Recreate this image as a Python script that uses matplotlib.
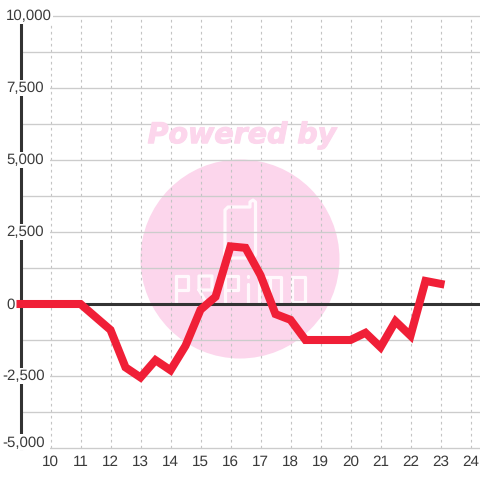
import matplotlib
matplotlib.use("Agg")
import matplotlib.pyplot as plt
import matplotlib.patheffects as pe
from matplotlib.patches import Circle, Rectangle
from matplotlib.transforms import Affine2D, blended_transform_factory

# Data
hours = [9, 10, 11, 12, 12.5, 13, 13.5, 14, 14.5, 15, 15.5, 16, 16.5, 17, 17.5,
         18, 18.5, 19, 19.5, 20, 20.5, 21, 21.5, 22, 22.5, 23]
values = [0, 0, 0, -900, -2200, -2550, -1950, -2300, -1450, -200, 250, 2000, 1950,
          1000, -350, -550, -1250, -1250, -1250, -1250, -1000, -1500, -600, -1100, 800, 700]
x_ticks = list(range(10, 25))
y_labels = {10000: "10,000", 7500: "7,500", 5000: "5,000", 2500: "2,500", 0: "0",
            -2500: "-2,500", -5000: "-5,000"}
y_minor = [8750, 6250, 3750, 1250, -1250, -3750]

plt.rcParams['font.family'] = ['Liberation Sans', 'DejaVu Sans']
plt.rcParams['text.hinting'] = 'none'

fig = plt.figure(figsize=(4.8, 4.8), dpi=100, facecolor='white')
ax = fig.add_axes([20.5 / 480, 32 / 480, 459.5 / 480, 432 / 480])
ax.set_xlim(9, 9 + 459.5 / 30)
ax.set_ylim(-5000, 10000)
ax.set_facecolor('none')
for s in ax.spines.values():
    s.set_visible(False)
ax.set_yticks([])
ax.set_xticks(x_ticks)
ax.tick_params(axis='x', length=0, pad=5, labelsize=11, labelcolor='#3a3a3a')

# pixel coordinates, origin top left, for the watermark
px = Affine2D().scale(1 / 480, -1 / 480).translate(0, 1) + fig.transFigure

# watermark
pink = '#fcd6ec'
fig.add_artist(Circle((240, 259), 99.5, transform=px, color=pink, lw=0, zorder=0))
title = fig.text(242, 135.5, "Powered by", transform=px, color=pink, fontsize=20.5, fontweight='bold',
                 fontstyle='italic', family='DejaVu Sans', ha='center', va='center', zorder=0)
title.set_path_effects([pe.withStroke(linewidth=0.8, foreground=pink)])


def stroke(xs, ys):
    fig.add_artist(plt.Line2D(xs, ys, transform=px, color='#fff8fc', lw=2.3,
                              solid_joinstyle='round', solid_capstyle='round', zorder=0))


# phone
stroke([225, 225, 228, 250, 250, 253, 255.5, 255.5, 253, 228, 225, 225],
       [255, 210, 207, 207, 202, 200, 202, 255, 258, 258, 255, 250])
# logo letters
stroke([176, 176], [276, 302])
stroke([176, 188, 188, 176], [276, 276, 290, 290])
stroke([199, 199, 212, 212, 199, 206], [290, 276, 276, 290, 290, 302])
stroke([225, 225], [276, 302])
stroke([225, 238, 238, 225], [276, 276, 290, 290])
stroke([248, 248], [284, 302])
stroke([248, 248], [276, 277])
stroke([259, 259, 281, 281], [302, 277, 277, 302])
stroke([270, 270], [277, 302])
stroke([292, 292, 305, 305, 292], [277, 302, 302, 277, 277])

# grid
for h in x_ticks:
    ax.plot([h, h], [-5000, 10000], color='#c4c4c4', lw=0.8, dashes=(2.4, 3.0), zorder=1, clip_on=False)
for v in y_minor + [k for k in y_labels if k != 0]:
    ax.axhline(v, color='#cccccc', lw=0.95, zorder=1, clip_on=False)

# axis lines
ax.axvline(9, color='#333333', lw=2.2, zorder=2, clip_on=False)
ax.axhline(0, color='#333333', lw=2.2, zorder=2, clip_on=False)

# y labels sit on a white box that breaks the axis line
trans = blended_transform_factory(px, ax.transData)
px_per_unit = 432 / 15000
for v, lab in y_labels.items():
    left = 2 if v < 0 else 6
    y = v + 200 if v == -5000 else v
    right = 53 if v == 10000 else (18 if v == 0 else 50)
    half = 8 / px_per_unit
    ax.add_patch(Rectangle((0, y - half), right, 2 * half, transform=trans, facecolor='white',
                           edgecolor='none', zorder=3, clip_on=False))
    ax.text(left, y - 0.5 / px_per_unit, lab, transform=trans, ha='left', va='center', fontsize=10.8,
            color='#3a3a3a', zorder=3.5, clip_on=False)

ax.plot(hours, values, color='#f01f37', lw=5.8, solid_capstyle='projecting',
        solid_joinstyle='miter', zorder=4, clip_on=False)

fig.savefig('out.png', dpi=100)
